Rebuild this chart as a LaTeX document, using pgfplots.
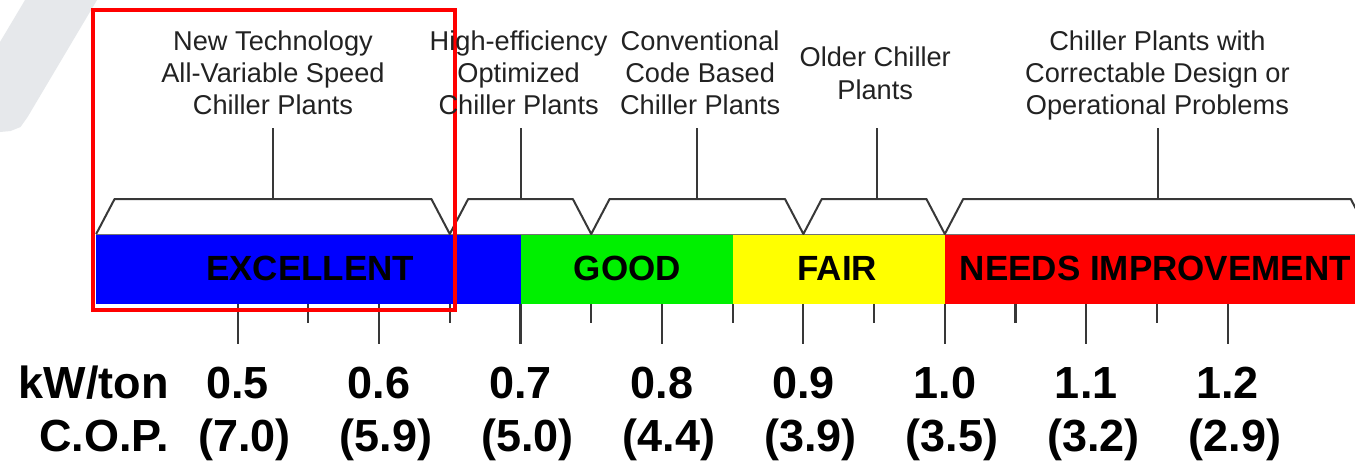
\documentclass[border=0pt]{standalone}
\usepackage{pgfplots}
\pgfplotsset{compat=1.18}
\usepackage{fontspec}
\setmainfont{Liberation Sans}
\definecolor{lbl}{HTML}{222222}
\definecolor{brk}{HTML}{383838}
\definecolor{wm}{HTML}{E6E8EB}
\definecolor{cblue}{HTML}{0000FF}
\definecolor{cgreen}{HTML}{00F000}
\definecolor{cyellow}{HTML}{FFFF00}
\definecolor{cred}{HTML}{FF0000}
\newcommand{\toplbl}[3]{\node[anchor=base, text=lbl, font=\fontsize{13.6}{16}\selectfont, inner sep=0pt] at (axis cs:#1,#2) {#3};}
\newcommand{\barlbl}[2]{\node[anchor=base, text=black, font=\fontsize{17.5}{20}\selectfont\bfseries, inner sep=0pt] at (axis cs:#1,182.5) {#2};}
\newcommand{\numlbl}[3]{\node[anchor=base, text=black, font=\fontsize{22.5}{27}\selectfont\bfseries, inner sep=0pt] at (axis cs:#1,#2) {#3};}
\begin{document}
\begin{tikzpicture}
\begin{axis}[
  width=677.5pt, height=231.5pt, scale only axis,
  xmin=0.332, xmax=1.290, ymin=0, ymax=463,
  hide axis, clip=true,
]
% background
\addplot[fill=white, draw=none] coordinates {(0.332,0)(1.29,0)(1.29,463)(0.332,463)} -- cycle;
% watermark shape
\addplot[fill=wm, draw=none] coordinates {(0.3497,463)(0.4006,463)(0.3515,346)(0.3465,336)(0.3395,332)(0.332,331)(0.332,421)} -- cycle;
% colour bar
\addplot[fill=cblue, draw=none] coordinates {(0.4,159)(0.7,159)(0.7,229)(0.4,229)} -- cycle;
\addplot[fill=cgreen, draw=none] coordinates {(0.7,159)(0.85,159)(0.85,229)(0.7,229)} -- cycle;
\addplot[fill=cyellow, draw=none] coordinates {(0.85,159)(1.0,159)(1.0,229)(0.85,229)} -- cycle;
\addplot[fill=cred, draw=none] coordinates {(1.0,159)(1.3,159)(1.3,229)(1.0,229)} -- cycle;
\addplot[black!55, line width=0.5pt] coordinates {(0.4,229)(1.3,229)};
% brackets
\addplot[brk, line width=1pt, line join=round] coordinates {
(0.4,229)(0.413,264)(0.637,264)(0.65,229)(0.663,264)(0.737,264)(0.75,229)(0.763,264)(0.887,264)(0.9,229)(0.913,264)(0.987,264)(1.0,229)(1.013,264)(1.287,264)(1.3,229)};
% stems
\addplot[brk, line width=1pt, unbounded coords=jump] coordinates {
(0.525,264)(0.525,335)(0.525,nan)
(0.7,264)(0.7,335)(0.7,nan)
(0.825,264)(0.825,335)(0.825,nan)
(0.952,264)(0.952,335)(0.952,nan)
(1.151,264)(1.151,335)};
% ticks
\addplot[brk, line width=1.1pt, unbounded coords=jump] coordinates {
(0.5,159)(0.5,119)(0.5,nan)
(0.55,159)(0.55,140)(0.55,nan)
(0.6,159)(0.6,119)(0.6,nan)
(0.65,159)(0.65,140)(0.65,nan)
(0.7,159)(0.7,119)(0.7,nan)
(0.75,159)(0.75,140)(0.75,nan)
(0.8,159)(0.8,119)(0.8,nan)
(0.85,159)(0.85,140)(0.85,nan)
(0.9,159)(0.9,119)(0.9,nan)
(0.95,159)(0.95,140)(0.95,nan)
(1.0,159)(1.0,119)(1.0,nan)
(1.05,159)(1.05,140)(1.05,nan)
(1.1,159)(1.1,119)(1.1,nan)
(1.15,159)(1.15,140)(1.15,nan)
(1.2,159)(1.2,119)};
% highlight box
\addplot[cred, line width=2.2pt, line join=miter] coordinates {(0.3978,153)(0.6538,153)(0.6538,453)(0.3978,453)} -- cycle;
% top labels
\toplbl{0.525}{413}{New Technology}
\toplbl{0.525}{381}{All-Variable Speed}
\toplbl{0.525}{349}{Chiller Plants}
\toplbl{0.6987}{413}{High-efficiency}
\toplbl{0.6987}{381}{Optimized}
\toplbl{0.6987}{349}{Chiller Plants}
\toplbl{0.827}{413}{Conventional}
\toplbl{0.827}{381}{Code Based}
\toplbl{0.827}{349}{Chiller Plants}
\toplbl{0.9508}{397}{Older Chiller}
\toplbl{0.9508}{364}{Plants}
\toplbl{1.1503}{413}{Chiller Plants with}
\toplbl{1.1503}{381}{Correctable Design or}
\toplbl{1.1503}{349}{Operational Problems}
% bar labels
\barlbl{0.5513}{EXCELLENT}
\barlbl{0.7755}{GOOD}
\barlbl{0.924}{FAIR}
\barlbl{1.1489}{NEEDS IMPROVEMENT}
% scale labels
\node[anchor=base east, font=\fontsize{22.5}{27}\selectfont\bfseries, inner sep=0pt] at (axis cs:0.4515,65) {kW/ton};
\node[anchor=base east, font=\fontsize{22.5}{27}\selectfont\bfseries, inner sep=0pt] at (axis cs:0.4515,12) {C.O.P.};
\numlbl{0.5}{65}{0.5}
\numlbl{0.6}{65}{0.6}
\numlbl{0.7}{65}{0.7}
\numlbl{0.8}{65}{0.8}
\numlbl{0.9}{65}{0.9}
\numlbl{1.0}{65}{1.0}
\numlbl{1.1}{65}{1.1}
\numlbl{1.2}{65}{1.2}
\numlbl{0.505}{12}{(7.0)}
\numlbl{0.605}{12}{(5.9)}
\numlbl{0.705}{12}{(5.0)}
\numlbl{0.805}{12}{(4.4)}
\numlbl{0.905}{12}{(3.9)}
\numlbl{1.005}{12}{(3.5)}
\numlbl{1.105}{12}{(3.2)}
\numlbl{1.205}{12}{(2.9)}
\end{axis}
\end{tikzpicture}
\end{document}
